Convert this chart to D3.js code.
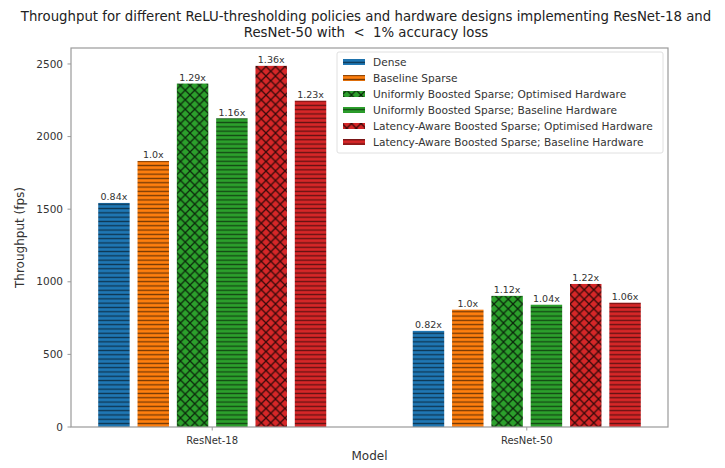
<!DOCTYPE html>
<html><head><meta charset="utf-8">
<script src="https://cdn.jsdelivr.net/npm/d3@7"></script>
<style>body{margin:0;background:#fff} text{font-family:"DejaVu Sans",sans-serif}</style>
</head><body><svg id="c" width="725" height="468"></svg>
<script>
const models = ["ResNet-18", "ResNet-50"];
const series = ["Dense", "Baseline Sparse",
  "Uniformly Boosted Sparse; Optimised Hardware",
  "Uniformly Boosted Sparse; Baseline Hardware",
  "Latency-Aware Boosted Sparse; Optimised Hardware",
  "Latency-Aware Boosted Sparse; Baseline Hardware"];
const resnet18 = [1543, 1832, 2365, 2126, 2487, 2247];
const resnet50 = [662, 808, 903, 842, 985, 856];
const labels18 = ["0.84x", "1.0x", "1.29x", "1.16x", "1.36x", "1.23x"];
const labels50 = ["0.82x", "1.0x", "1.12x", "1.04x", "1.22x", "1.06x"];
const colors = ["#1f77b4", "#ff7f0e", "#2ca02c", "#2ca02c", "#d62728", "#d62728"];
const hatches = ["-", "-", "x", "-", "x", "-"];
const yTicks = [0, 500, 1000, 1500, 2000, 2500];
const titleLines = ["Throughput for different ReLU-thresholding policies and hardware designs implementing ResNet-18 and",
  "ResNet-50 with  <  1% accuracy loss"];

const values = [resnet18, resnet50];
const barLabels = [labels18, labels50];

const svg = d3.select("#c");
const L = 71, R = 668, T = 48, B = 427;
const x = d3.scaleLinear().domain([-0.449, 1.449]).range([L, R]);
const y = d3.scaleLinear().domain([0, 2610]).range([B, T]);
const slot = 0.125, bw = 0.1;

// patterns
const defs = svg.append("defs");
colors.forEach((c, i) => {
  if (hatches[i] === "-") {
    const p = defs.append("pattern").attr("id", "h" + i).attr("patternUnits", "userSpaceOnUse")
      .attr("width", 10).attr("height", 4.3);
    p.append("rect").attr("width", 10).attr("height", 4.3).attr("fill", c);
    p.append("rect").attr("y", 1.5).attr("width", 10).attr("height", 1.3).attr("fill", "#000").attr("opacity", 0.55);
  } else {
    const s = 9.5;
    const p = defs.append("pattern").attr("id", "h" + i).attr("patternUnits", "userSpaceOnUse")
      .attr("width", s).attr("height", s);
    p.append("rect").attr("width", s).attr("height", s).attr("fill", c);
    p.append("path").attr("d", `M0,0L${s},${s}M${s},0L0,${s}M-1,${s-1}L1,${s+1}M${s-1},-1L${s+1},1`)
      .attr("stroke", "#000").attr("stroke-width", 1.3).attr("stroke-opacity", 0.75);
  }
});

// bars
models.forEach((m, mi) => {
  series.forEach((s, si) => {
    const cx = mi + (si - 2.5) * slot;
    const v = values[mi][si];
    svg.append("rect").attr("x", x(cx - bw / 2)).attr("width", x(cx + bw / 2) - x(cx - bw / 2))
      .attr("y", y(v)).attr("height", y(0) - y(v)).attr("fill", `url(#h${si})`);
    svg.append("text").attr("x", x(cx)).attr("y", y(v) - 2.5).attr("text-anchor", "middle")
      .attr("font-size", 9.5).attr("fill", "#333").text(barLabels[mi][si]);
  });
});

// axes frame
svg.append("rect").attr("x", L).attr("y", T).attr("width", R - L).attr("height", B - T)
  .attr("fill", "none").attr("stroke", "#9a9a9a").attr("stroke-width", 1.2);

// y ticks
const ya = svg.append("g");
yTicks.forEach(t => {
  ya.append("line").attr("x1", L - 3.5).attr("x2", L).attr("y1", y(t)).attr("y2", y(t)).attr("stroke", "#9a9a9a");
  ya.append("text").attr("x", L - 8).attr("y", y(t)).attr("dy", "0.35em").attr("text-anchor", "end")
    .attr("font-size", 10.5).attr("fill", "#333").text(t);
});
// x ticks
models.forEach((m, mi) => {
  svg.append("line").attr("x1", x(mi)).attr("x2", x(mi)).attr("y1", B).attr("y2", B + 3.5).attr("stroke", "#9a9a9a");
  svg.append("text").attr("x", x(mi)).attr("y", B + 17).attr("text-anchor", "middle")
    .attr("font-size", 10).attr("fill", "#333").text(m);
});

// axis titles
svg.append("text").attr("x", (L + R) / 2).attr("y", 460).attr("text-anchor", "middle")
  .attr("font-size", 12).attr("fill", "#333").text("Model");
svg.append("text").attr("transform", `translate(24,${(T + B) / 2}) rotate(-90)`).attr("text-anchor", "middle")
  .attr("font-size", 12).attr("fill", "#333").text("Throughput (fps)");

// title
titleLines.forEach((t, i) => {
  svg.append("text").attr("x", 366).attr("y", 21 + i * 16).attr("text-anchor", "middle")
    .attr("font-size", 13.3).attr("fill", "#222").style("white-space", "pre").text(t);
});

// legend
const lg = svg.append("g");
lg.append("rect").attr("x", 337).attr("y", 52).attr("width", 326).attr("height", 101).attr("rx", 2)
  .attr("fill", "#fff").attr("fill-opacity", 0.8).attr("stroke", "#e0e0e0");
series.forEach((s, i) => {
  const yy = 62 + i * 16;
  lg.append("rect").attr("x", 343).attr("y", yy - 3).attr("width", 22).attr("height", 6).attr("fill", `url(#h${i})`);
  lg.append("text").attr("x", 373).attr("y", yy).attr("dy", "0.35em").attr("font-size", 10.6)
    .attr("fill", "#333").text(s);
});
</script></body></html>
